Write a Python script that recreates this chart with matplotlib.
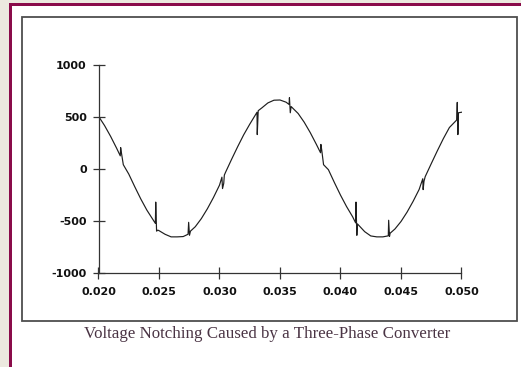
import matplotlib
matplotlib.use("Agg")
import matplotlib.pyplot as plt
from matplotlib.patches import Rectangle

# ---- data ----
time_s = [
    0.0200, 0.0205, 0.0210, 0.0215,
    0.02180, 0.02183, 0.02190, 0.02205,
    0.0225, 0.0230, 0.0235, 0.0240,
    0.02470, 0.02473, 0.02480, 0.02490,
    0.0250, 0.0255, 0.0260, 0.0265, 0.0270,
    0.02740, 0.02745, 0.02752, 0.02760,
    0.0280, 0.0285, 0.0290, 0.0295, 0.0300,
    0.03020, 0.03025, 0.03035, 0.03040,
    0.0305, 0.0310, 0.0315, 0.0320, 0.0325,
    0.03310, 0.03312, 0.03320,
    0.0335, 0.0340, 0.0345, 0.0350, 0.0355,
    0.03575, 0.03578, 0.03585, 0.03592,
    0.0365, 0.0370, 0.0375, 0.0380,
    0.03835, 0.03838, 0.03845, 0.03860,
    0.0390, 0.0395, 0.0400, 0.0405, 0.0410,
    0.04125, 0.04128, 0.04135, 0.04140,
    0.0420, 0.0425, 0.0430, 0.0435,
    0.04395, 0.04398, 0.04405, 0.04410,
    0.0445, 0.0450, 0.0455, 0.0460, 0.0465,
    0.04680, 0.04683, 0.04690, 0.04700,
    0.0475, 0.0480, 0.0485, 0.0490,
    0.04960, 0.04965, 0.04970, 0.04975, 0.0500,
]
voltage_v = [
    507, 417, 313, 198,
    125, 205, 150, 40,
    -50, -173, -291, -398,
    -525, -320, -600, -590,
    -595, -630, -655, -655, -652,
    -630, -515, -640, -600,
    -557, -479, -384, -276, -157,
    -80, -190, -140, -60,
    -33, 92, 213, 328, 430,
    545, 330, 560,
    587, 635, 661, 663, 642,
    620, 685, 540, 600,
    533, 449, 349, 237,
    155, 235, 180, 40,
    -8, -133, -253, -363, -461,
    -520, -320, -640, -530,
    -605, -646, -655, -655,
    -645, -495, -650, -620,
    -579, -507, -417, -313, -198,
    -95, -200, -120, -75,
    50, 173, 291, 398,
    470, 640, 330, 540, 545,
]
x_ticks = [0.020, 0.025, 0.030, 0.035, 0.040, 0.045, 0.050]
x_tick_labels = ["0.020", "0.025", "0.030", "0.035", "0.040", "0.045", "0.050"]
y_ticks = [-1000, -500, 0, 500, 1000]
y_tick_labels = ["-1000", "-500", "0", "500", "1000"]
caption = "Voltage Notching Caused by a Three-Phase Converter"

# ---- figure ----
W, H = 521, 367
fig = plt.figure(figsize=(W / 100, H / 100), dpi=100, facecolor="white")


def px_rect(x0, y0, x1, y1, **kw):
    r = Rectangle((x0 / W, 1 - y1 / H), (x1 - x0) / W, (y1 - y0) / H,
                  transform=fig.transFigure, **kw)
    fig.patches.append(r)


beige = "#ECE9DF"
maroon = "#8A0C4A"
px_rect(0, 0, 9, H, facecolor=beige, edgecolor="none")
px_rect(0, 0, W, 3, facecolor=beige, edgecolor="none")
px_rect(9, 3, 11.5, H, facecolor=maroon, edgecolor="none")
px_rect(9, 3, W, 5.5, facecolor=maroon, edgecolor="none")
px_rect(11.5, 5.5, 12.3, H, facecolor="#C04A7E", edgecolor="none")
px_rect(11.5, 5.5, W, 6.3, facecolor="#C04A7E", edgecolor="none")
px_rect(22, 17, 517, 321, facecolor="none", edgecolor="#4E4E4E", linewidth=1.3)

ax = fig.add_axes([98.5 / W, 1 - 272.7 / H, 363 / W, 207.7 / H])
ax.set_facecolor("none")
ax.plot(time_s, voltage_v, color="#1E1E1E", linewidth=0.85)
ax.set_xlim(0.020, 0.050)
ax.set_ylim(-1000, 1000)
ax.set_xticks(x_ticks)
ax.set_xticklabels(x_tick_labels)
ax.set_yticks(y_ticks)
ax.set_yticklabels(y_tick_labels)
for s in ("top", "right"):
    ax.spines[s].set_visible(False)
for s in ("left", "bottom"):
    ax.spines[s].set_color("#333333")
    ax.spines[s].set_linewidth(0.9)
ax.tick_params(direction="inout", length=9, width=0.9, color="#333333",
               labelsize=8, labelcolor="#111111")
ax.tick_params(axis="x", pad=6)
ax.tick_params(axis="y", pad=4)
for lab in ax.get_xticklabels() + ax.get_yticklabels():
    lab.set_fontweight("bold")

fig.text(267 / W, 1 - 334 / H, caption, ha="center", va="center",
         family="Liberation Serif", fontsize=12.2, color="#4A3444")

fig.savefig("out.png", dpi=100, facecolor="white")
